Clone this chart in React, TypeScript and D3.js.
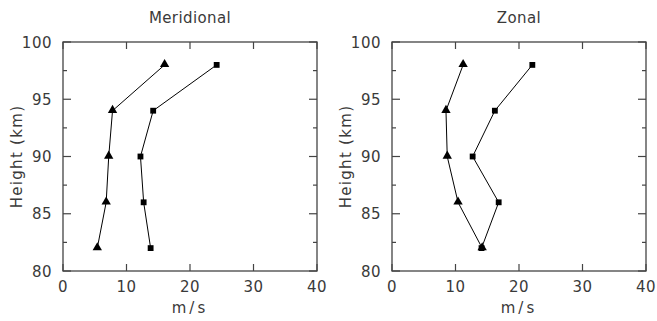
import React from 'react';
import * as d3 from 'd3';

const heights = [98, 94, 90, 86, 82];
const meridTri = [16.0, 7.8, 7.2, 6.8, 5.4];
const meridSq = [24.2, 14.2, 12.2, 12.7, 13.8];
const zonalTri = [11.2, 8.5, 8.7, 10.4, 14.2];
const zonalSq = [22.1, 16.2, 12.7, 16.8, 14.1];
const xTicks = [0, 10, 20, 30, 40];
const yTicks = [80, 85, 90, 95, 100];
const yMinor = [82.5, 87.5, 92.5, 97.5];

const W = 657;
const H = 321;
const FONT = 'DejaVu Sans, sans-serif';
const TXT = '#3a3a3a';

type PanelProps = { left: number; title: string; tri: number[]; sq: number[] };

const Panel = ({ left, title, tri, sq }: PanelProps) => {
  const top = 42;
  const bottom = 271;
  const right = left + 254;
  const x = d3.scaleLinear().domain([0, 40]).range([left, right]);
  const y = d3.scaleLinear().domain([80, 100]).range([bottom, top]);
  const line = d3
    .line<number>()
    .x(d => x(d))
    .y((_, i) => y(heights[i]));
  const triPath = d3.symbol().type(d3.symbolTriangle).size(38)();
  const sqPath = d3.symbol().type(d3.symbolSquare).size(34)();

  return (
    <g>
      <text x={(left + right) / 2} y={23} textAnchor="middle" fontSize={15} letterSpacing={0.4} fill={TXT} fontFamily={FONT}>
        {title}
      </text>
      <path d={line(tri) || ''} fill="none" stroke="#000" strokeWidth={1} />
      <path d={line(sq) || ''} fill="none" stroke="#000" strokeWidth={1} />
      {tri.map((v, i) => (
        <path key={'t' + i} d={triPath || ''} transform={`translate(${x(v)},${y(heights[i]) - 0.5})`} fill="#000" />
      ))}
      {sq.map((v, i) => (
        <path key={'s' + i} d={sqPath || ''} transform={`translate(${x(v)},${y(heights[i])})`} fill="#000" />
      ))}
      <rect x={left} y={top} width={right - left} height={bottom - top} fill="none" stroke="#444" strokeWidth={1.3} />
      {xTicks.map(t => (
        <g key={'x' + t}>
          <line x1={x(t)} x2={x(t)} y1={bottom} y2={bottom - 7} stroke="#444" strokeWidth={1.2} />
          <line x1={x(t)} x2={x(t)} y1={top} y2={top + 7} stroke="#444" strokeWidth={1.2} />
          <text x={x(t)} y={292} textAnchor="middle" fontSize={15} letterSpacing={0.5} fill={TXT} fontFamily={FONT}>
            {t}
          </text>
        </g>
      ))}
      {yTicks.map(t => (
        <g key={'y' + t}>
          <line x1={left} x2={left + 8} y1={y(t)} y2={y(t)} stroke="#444" strokeWidth={1.2} />
          <line x1={right} x2={right - 8} y1={y(t)} y2={y(t)} stroke="#444" strokeWidth={1.2} />
          <text x={left - 11} y={y(t) + 5.5} textAnchor="end" fontSize={15} letterSpacing={0.5} fill={TXT} fontFamily={FONT}>
            {t}
          </text>
        </g>
      ))}
      {yMinor.map(t => (
        <g key={'m' + t}>
          <line x1={left} x2={left + 4} y1={y(t)} y2={y(t)} stroke="#444" strokeWidth={1.2} />
          <line x1={right} x2={right - 4} y1={y(t)} y2={y(t)} stroke="#444" strokeWidth={1.2} />
        </g>
      ))}
      <text x={(left + right) / 2} y={313} textAnchor="middle" fontSize={15} letterSpacing={3} fill={TXT} fontFamily={FONT}>
        m/s
      </text>
      <text
        transform={`translate(${left - 41},${(top + bottom) / 2}) rotate(-90)`}
        textAnchor="middle"
        fontSize={15}
        letterSpacing={1.3}
        fill={TXT}
        fontFamily={FONT}
      >
        Height (km)
      </text>
    </g>
  );
};

const App = () => (
  <svg width={W} height={H} style={{ position: 'absolute', left: 0, top: 0, background: '#fff' }}>
    <Panel left={63} title="Meridional" tri={meridTri} sq={meridSq} />
    <Panel left={392} title="Zonal" tri={zonalTri} sq={zonalSq} />
  </svg>
);

export default App;
